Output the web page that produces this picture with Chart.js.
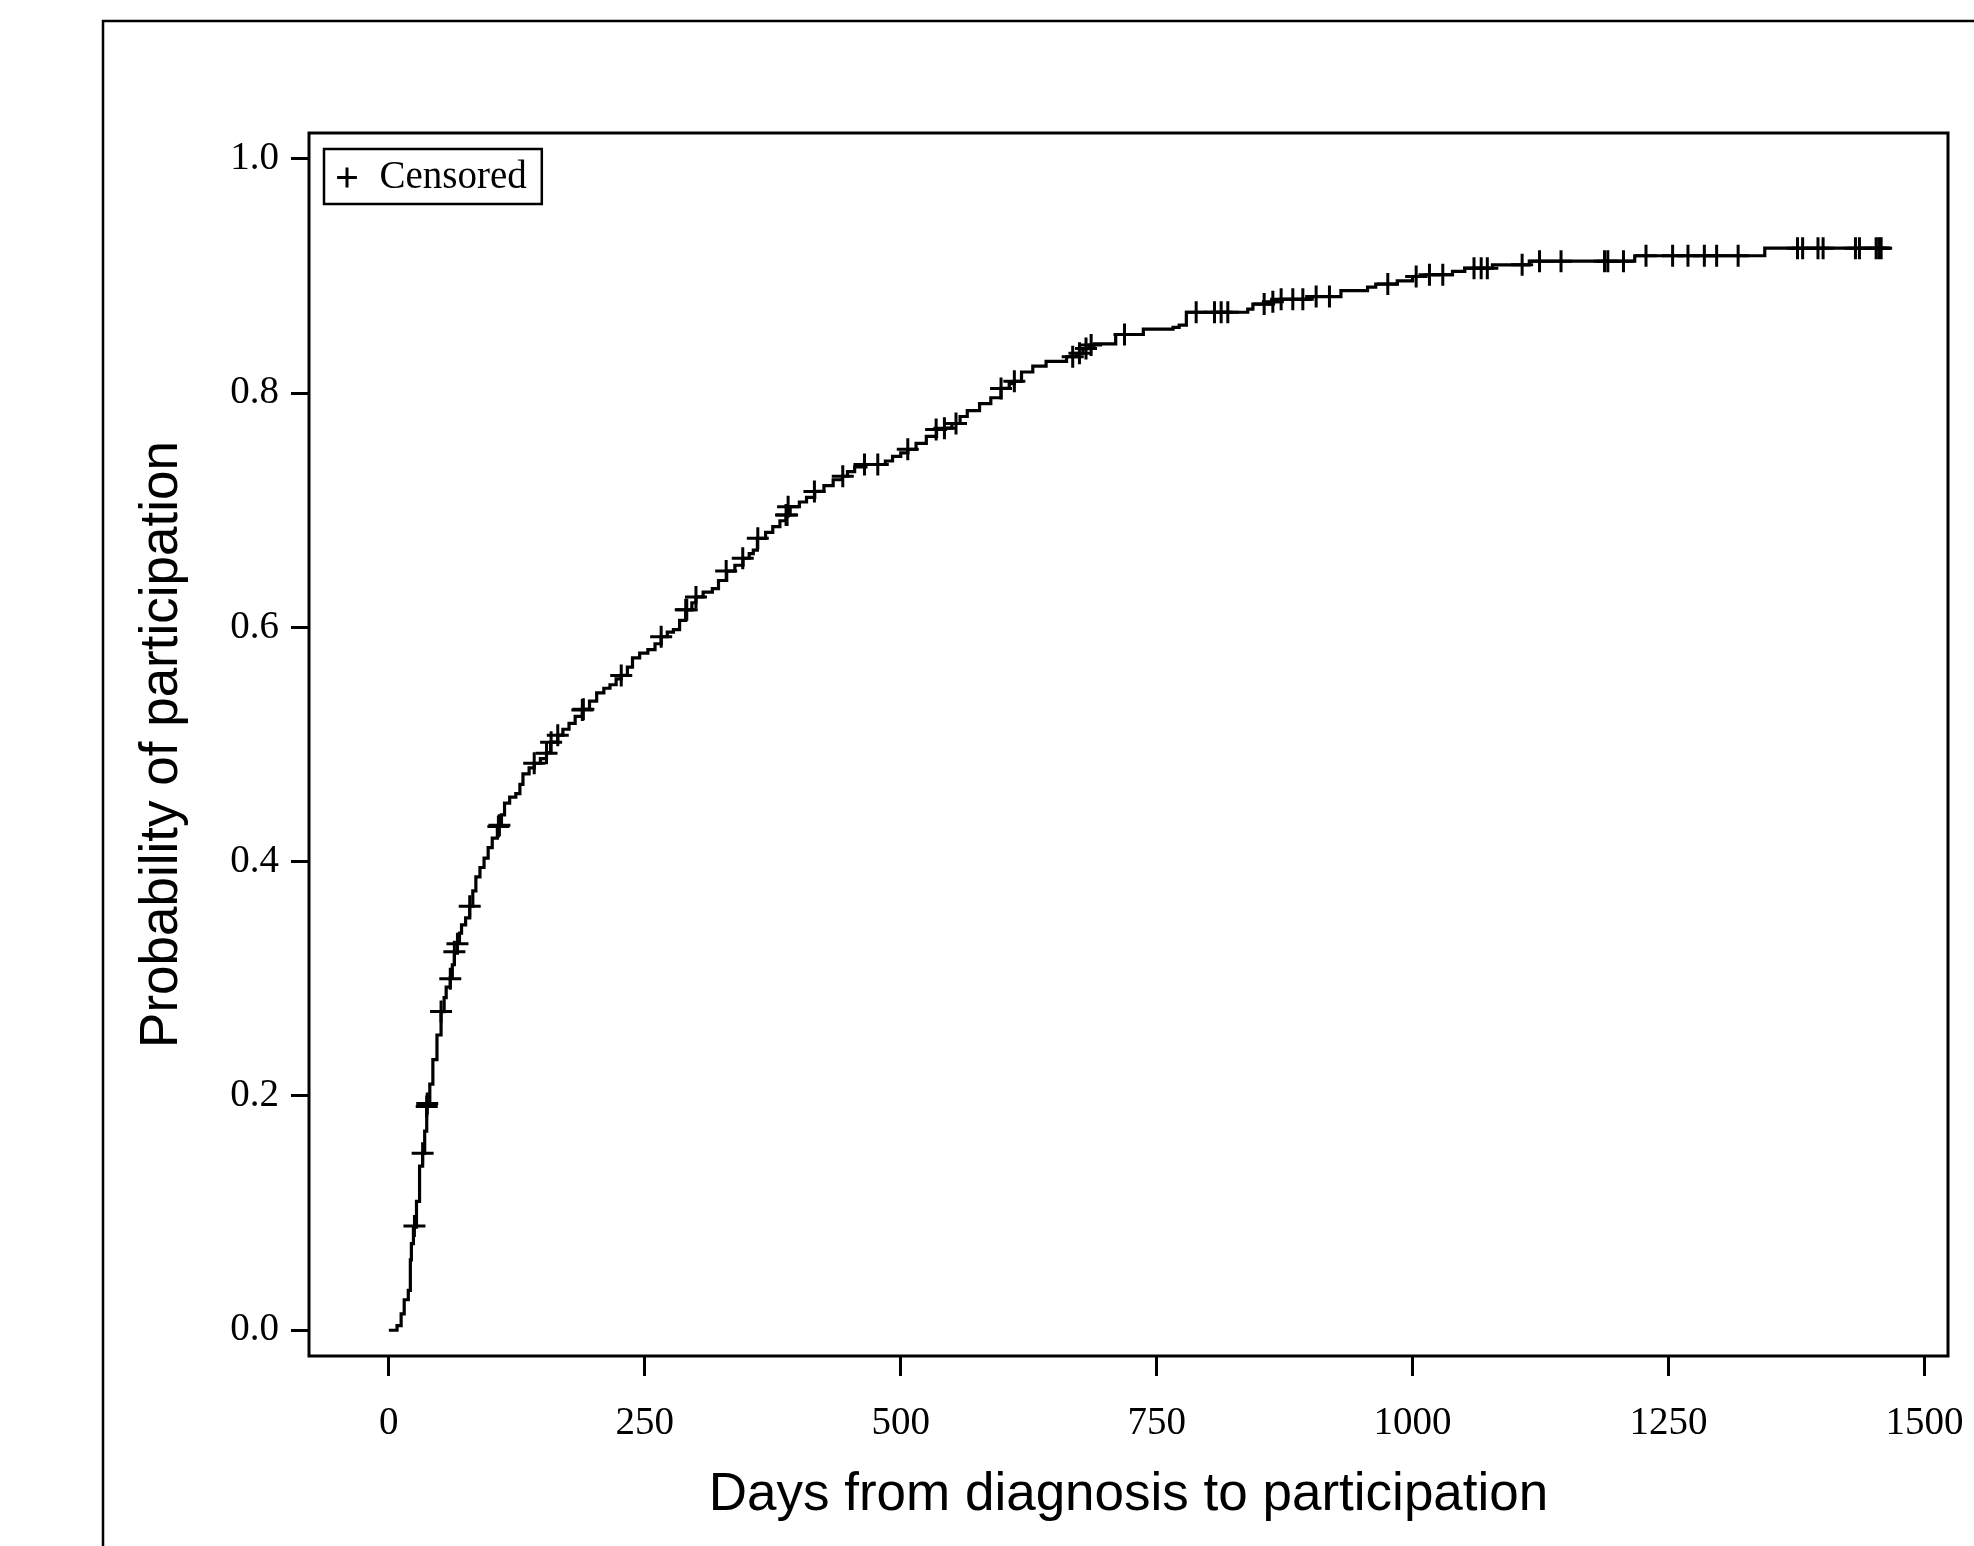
<!DOCTYPE html>
<html>
<head>
<meta charset="utf-8">
<title>Probability of participation</title>
<script src="https://cdn.jsdelivr.net/npm/chart.js@4"></script>
<style>
  html, body { margin: 0; padding: 0; background: #fff; }
  #wrap { width: 1974px; height: 1546px; }
</style>
</head>
<body>
<div id="wrap"><canvas id="km" width="1974" height="1546"></canvas></div>
<script>
// step curve: day of each step and the probability after it
const kmDays = [0, 8, 12, 15, 19, 21, 22, 24, 27, 30, 33, 35, 37, 40, 43, 47, 51, 54, 56, 60,
  62, 64, 67, 69, 71, 75, 79, 82, 85, 89, 93, 97, 101, 106, 110, 113, 118, 124, 128, 131,
  137, 142, 148, 154, 158, 165, 170, 176, 182, 189, 196, 203, 210, 216, 222, 227, 233, 238, 245, 253,
  260, 266, 272, 278, 284, 290, 296, 300, 307, 316, 322, 330, 338, 346, 352, 356, 360, 368, 375, 382,
  388, 392, 401, 408, 416, 425, 434, 443, 448, 455, 466, 485, 492, 500, 507, 515, 525, 535, 543, 550,
  558, 565, 577, 588, 598, 606, 611, 618, 629, 642, 662, 672, 678, 684, 689, 710, 737, 766, 772, 779,
  839, 844, 862, 870, 900, 930, 956, 964, 985, 1000, 1013, 1039, 1051, 1078, 1114, 1217, 1344, 1467];
const kmProb = [0, 0.004, 0.014, 0.026, 0.034, 0.060, 0.074, 0.088, 0.110, 0.140, 0.151, 0.170, 0.191, 0.210, 0.231, 0.252, 0.272, 0.284, 0.293, 0.301,
  0.312, 0.323, 0.331, 0.339, 0.346, 0.352, 0.362, 0.375, 0.387, 0.395, 0.403, 0.412, 0.420, 0.430, 0.440, 0.450, 0.455, 0.458, 0.466, 0.475,
  0.480, 0.484, 0.488, 0.493, 0.502, 0.508, 0.513, 0.518, 0.524, 0.530, 0.537, 0.544, 0.548, 0.551, 0.556, 0.559, 0.566, 0.574, 0.578, 0.581,
  0.586, 0.592, 0.596, 0.598, 0.606, 0.615, 0.621, 0.626, 0.630, 0.633, 0.640, 0.648, 0.653, 0.659, 0.663, 0.666, 0.676, 0.681, 0.686, 0.691,
  0.696, 0.703, 0.707, 0.711, 0.716, 0.721, 0.726, 0.729, 0.733, 0.737, 0.739, 0.742, 0.746, 0.749, 0.752, 0.757, 0.763, 0.769, 0.770, 0.774,
  0.780, 0.785, 0.791, 0.796, 0.804, 0.808, 0.810, 0.818, 0.823, 0.827, 0.831, 0.834, 0.838, 0.841, 0.842, 0.850, 0.8545, 0.856, 0.858, 0.869,
  0.8716, 0.876, 0.878, 0.880, 0.8824, 0.8875, 0.8904, 0.893, 0.8958, 0.8995, 0.901, 0.9038, 0.9066, 0.9095, 0.9126, 0.9172, 0.9237, 0.9237];

// censored observations (+ marks)
const censorDays = [25, 33, 37, 37.5, 51, 60, 64, 67, 79, 107, 108, 142, 154, 158.5, 165, 189, 190, 227, 266, 290,
  291, 300, 329.5, 345.7, 360.4, 388, 389, 390, 415.7, 443.4, 464.6, 477.6, 506.9, 534.6, 542.7, 554, 598, 611, 668, 674.6,
  681, 686, 718.6, 788.6, 806.5, 813, 819.5, 855, 863.5, 871.6, 883, 892.8, 905.8, 918.8, 975.8, 1003.5, 1016.5, 1029.5, 1060, 1067,
  1073, 1107, 1124, 1145, 1187.5, 1190.7, 1206, 1228, 1254, 1269, 1285, 1297, 1318, 1376, 1381, 1396, 1401, 1432.6, 1436.5, 1452.8,
  1455.4, 1457.7];
const censorProb = [0.089, 0.151, 0.191, 0.1935, 0.272, 0.300, 0.323, 0.330, 0.362, 0.430, 0.431, 0.484, 0.4925, 0.502, 0.508, 0.5295, 0.530, 0.559, 0.592, 0.615,
  0.615, 0.626, 0.648, 0.659, 0.676, 0.696, 0.696, 0.703, 0.716, 0.729, 0.739, 0.739, 0.752, 0.769, 0.770, 0.774, 0.804, 0.810, 0.831, 0.834,
  0.838, 0.841, 0.850, 0.869, 0.869, 0.869, 0.869, 0.876, 0.878, 0.880, 0.880, 0.880, 0.8824, 0.8824, 0.893, 0.8995, 0.901, 0.901, 0.9066, 0.9066,
  0.9066, 0.9095, 0.9126, 0.9126, 0.9126, 0.9126, 0.9126, 0.9172, 0.9172, 0.9172, 0.9172, 0.9172, 0.9172, 0.9237, 0.9237, 0.9237, 0.9237, 0.9237, 0.9237, 0.9237,
  0.9237, 0.9237];

const xTicks = [0, 250, 500, 750, 1000, 1250, 1500];
const yTicks = [0, 0.2, 0.4, 0.6, 0.8, 1.0];
const yTickLabels = ['0.0', '0.2', '0.4', '0.6', '0.8', '1.0'];

const serif = 'Liberation Serif';
const sans = 'Liberation Sans';

// box round the plot area, the legend and the outer figure frame
const framePlugin = {
    id: 'frames',
    afterLayout(chart) {
        // keep the legend inside the plot area, top left
        // (the legend plugin recomputes its hit boxes right after this)
        const lg = chart.legend;
        if (lg) {
            lg.top = chart.chartArea.top;
            lg.bottom = lg.top + lg.height;
        }
    },
    beforeDraw(chart) {
        const ctx = chart.ctx;
        ctx.save();
        ctx.strokeStyle = '#000';
        ctx.lineWidth = 2.5;
        ctx.strokeRect(103, 21, chart.width, chart.height);
        ctx.restore();
    },
    afterDraw(chart) {
        const ctx = chart.ctx;
        const a = chart.chartArea;
        ctx.save();
        ctx.strokeStyle = '#000';
        ctx.lineWidth = 3;
        ctx.strokeRect(a.left, a.top, a.right - a.left, a.bottom - a.top);
        const hb = chart.legend && chart.legend.legendHitBoxes[0];
        if (hb) {
            ctx.lineWidth = 2.5;
            ctx.strokeRect(hb.left - 10, hb.top - 9, hb.width + 25, hb.height + 16);
        }
        ctx.restore();
    }
};

const ctx = document.getElementById('km').getContext('2d');

new Chart(ctx, {
    type: 'line',
    data: {
        datasets: [{
            label: 'Curve',
            data: kmDays.map((d, i) => ({ x: d, y: kmProb[i] })),
            borderColor: '#000',
            borderWidth: 3.2,
            stepped: true,
            pointRadius: 0,
            fill: false
        }, {
            label: 'Censored',
            data: censorDays.map((d, i) => ({ x: d, y: censorProb[i] })),
            showLine: false,
            pointStyle: 'cross',
            pointRadius: 11,
            pointBorderWidth: 3,
            pointBorderColor: '#000',
            pointBackgroundColor: '#000'
        }]
    },
    options: {
        responsive: false,
        animation: false,
        layout: {
            padding: { left: 100, top: 133, right: 26, bottom: 0 }
        },
        plugins: {
            tooltip: { enabled: false },
            legend: {
                position: 'chartArea',
                align: 'start',
                labels: {
                    filter: item => item.text === 'Censored',
                    usePointStyle: true,
                    boxWidth: 26,
                    boxHeight: 14,
                    padding: 25,
                    color: '#000',
                    font: { family: serif, size: 39 }
                }
            }
        },
        scales: {
            x: {
                type: 'linear',
                min: -78,
                max: 1523,
                afterBuildTicks: s => { s.ticks = xTicks.map(v => ({ value: v })); },
                afterFit: s => { s.height = 190; s.paddingLeft = 0; s.paddingRight = 0; },
                border: { display: false },
                grid: {
                    drawOnChartArea: false,
                    drawTicks: true,
                    tickLength: 20,
                    tickWidth: 3,
                    tickColor: '#000'
                },
                ticks: {
                    padding: 24,
                    color: '#000',
                    maxRotation: 0,
                    autoSkip: false,
                    font: { family: serif, size: 39 },
                    callback: v => String(v)
                },
                title: {
                    display: true,
                    text: 'Days from diagnosis to participation',
                    color: '#000',
                    padding: { top: 0, bottom: 19 },
                    font: { family: sans, size: 53 }
                }
            },
            y: {
                type: 'linear',
                min: -0.022,
                max: 1.022,
                afterBuildTicks: s => { s.ticks = yTicks.map(v => ({ value: v })); },
                afterFit: s => { s.width = 209; s.paddingTop = 0; s.paddingBottom = 0; },
                border: { display: false },
                grid: {
                    drawOnChartArea: false,
                    drawTicks: true,
                    tickLength: 18,
                    tickWidth: 3,
                    tickColor: '#000'
                },
                ticks: {
                    padding: 12,
                    color: '#000',
                    autoSkip: false,
                    font: { family: serif, size: 39 },
                    callback: (v, i) => yTickLabels[i]
                },
                title: {
                    display: true,
                    text: 'Probability of participation',
                    color: '#000',
                    padding: { top: 31, bottom: 0 },
                    font: { family: sans, size: 53 }
                }
            }
        }
    },
    plugins: [framePlugin]
});
</script>
</body>
</html>
